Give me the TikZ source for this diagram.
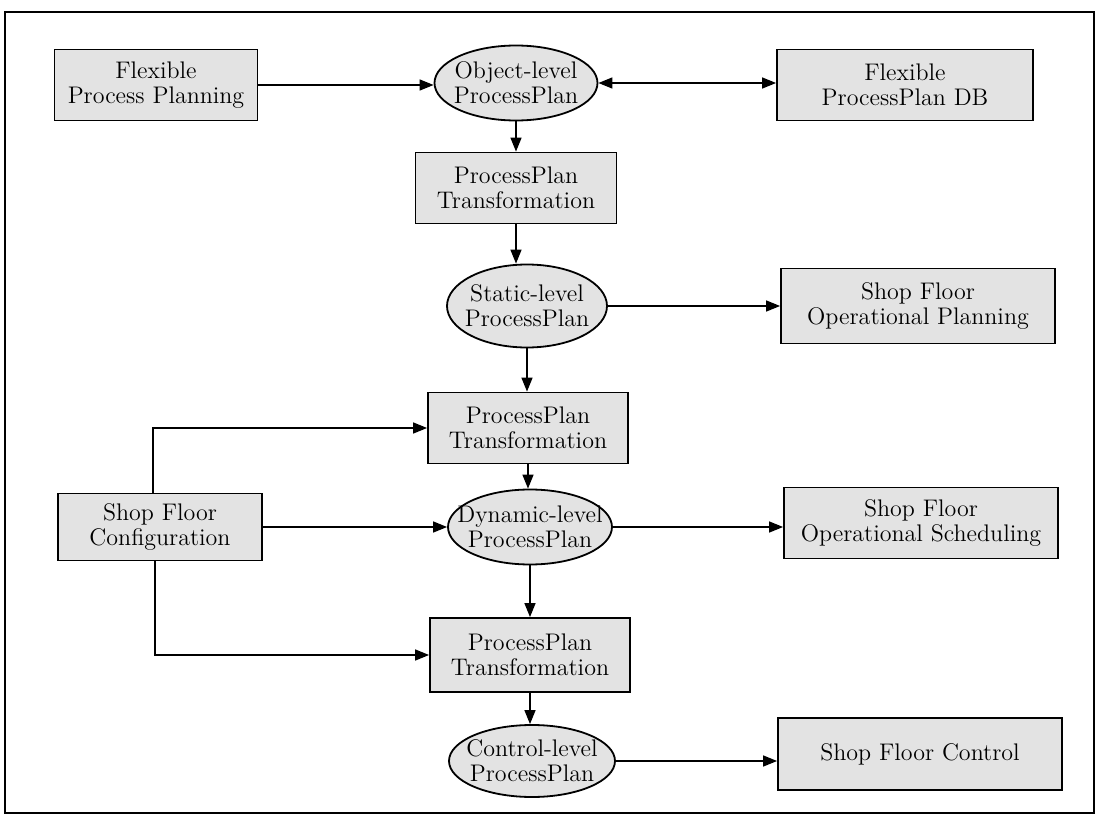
\documentclass[tikz,border=0pt]{standalone}
\usetikzlibrary{arrows.meta,shapes.geometric}
\begin{document}
\begin{tikzpicture}[x=0.5pt,y=-0.5pt,
  base/.style={draw=black,line width=0.9pt,fill=black!11,align=center,inner sep=0pt,
    font=\fontsize{12}{12.5}\selectfont},
  boxnode/.style={base,rectangle},
  ellnode/.style={base,ellipse,inner xsep=-10pt,inner ysep=-1pt},
  arr/.style={line width=0.7pt,-{Triangle[length=7pt,width=5.5pt]}},
  darr/.style={line width=0.7pt,{Triangle[length=7pt,width=5.5pt]}-{Triangle[length=7pt,width=5.5pt]}},
  frame/.style={draw=black,line width=0.8pt}]
\useasboundingbox (0,0) rectangle (1100,819);
\node[frame,rectangle,minimum width=544.5pt,minimum height=400.5pt,inner sep=0pt] (fr) at (549.5,412.5) {};
% nodes
\node[boxnode,minimum width=101.5pt,minimum height=35.5pt] (fpp) at (156,85) {Flexible\\Process Planning};
\node[ellnode,minimum width=81.5pt,minimum height=37.5pt] (obj) at (516,83) {Object-level\\ProcessPlan};
\node[boxnode,minimum width=128pt,minimum height=35.5pt] (db) at (905,85) {Flexible\\ProcessPlan DB};
\node[boxnode,minimum width=100.5pt,minimum height=35.5pt] (t1) at (516,188) {ProcessPlan\\Transformation};
\node[ellnode,minimum width=80pt,minimum height=41.5pt] (sta) at (527,306) {Static-level\\ProcessPlan};
\node[boxnode,minimum width=137pt,minimum height=37.5pt] (sfop) at (918,306) {Shop Floor\\Operational Planning};
\node[boxnode,minimum width=100pt,minimum height=35.5pt] (t2) at (528,428) {ProcessPlan\\Transformation};
\node[boxnode,minimum width=102pt,minimum height=33.5pt] (sfc) at (160,527) {Shop Floor\\Configuration};
\node[ellnode,minimum width=82pt,minimum height=37.5pt] (dyn) at (530,527) {Dynamic-level\\ProcessPlan};
\node[boxnode,minimum width=137pt,minimum height=35.5pt] (sfos) at (921,523) {Shop Floor\\Operational Scheduling};
\node[boxnode,minimum width=100pt,minimum height=37pt] (t3) at (530,655) {ProcessPlan\\Transformation};
\node[ellnode,minimum width=83pt,minimum height=36pt] (ctl) at (532,761) {Control-level\\ProcessPlan};
\node[boxnode,minimum width=142pt,minimum height=36pt] (sfctl) at (920,754) {Shop Floor Control};
% connectors
\draw[arr] (fpp.east) -- (fpp.east -| obj.west);
\draw[darr] (obj.east) -- (obj.east -| db.west);
\draw[arr] (obj.south) -- (t1.north);
\draw[arr] (t1.south) -- (t1.south |- sta.north);
\draw[arr] (sta.east) -- (sta.east -| sfop.west);
\draw[arr] (sta.south) -- (sta.south |- t2.north);
\draw[arr] ([xshift=-3.5pt]sfc.north) |- (t2.west);
\draw[arr] (sfc.east) -- (sfc.east -| dyn.west);
\draw[arr] ([xshift=-2.5pt]sfc.south) |- (t3.west);
\draw[arr] (t2.south) -- (t2.south |- dyn.north);
\draw[arr] (dyn.east) -- (dyn.east -| sfos.west);
\draw[arr] (dyn.south) -- (dyn.south |- t3.north);
\draw[arr] (t3.south) -- (t3.south |- ctl.north);
\draw[arr] (ctl.east) -- (ctl.east -| sfctl.west);
\end{tikzpicture}
\end{document}
